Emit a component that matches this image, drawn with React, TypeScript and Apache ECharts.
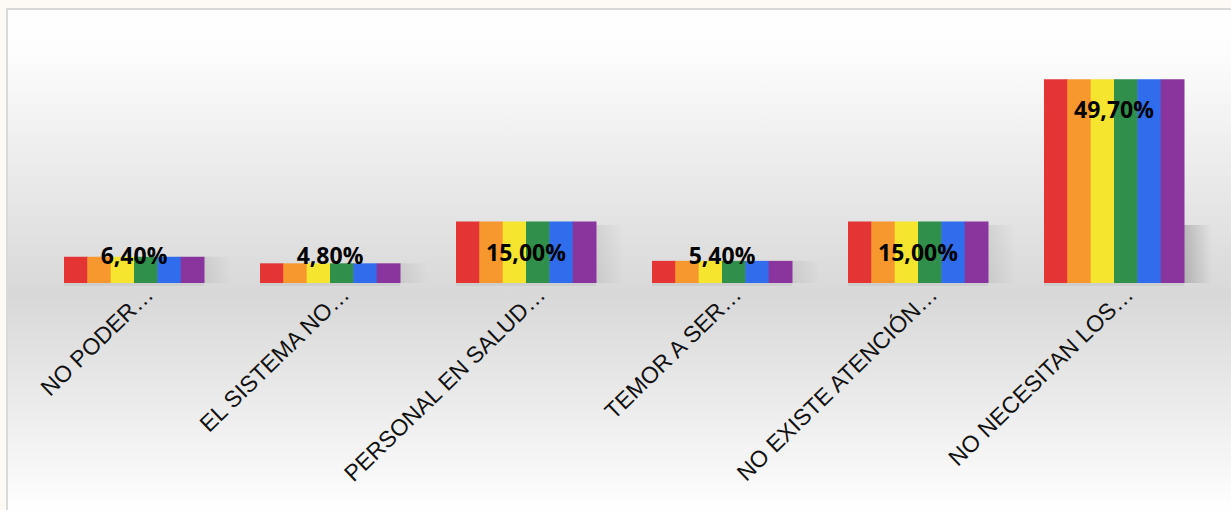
import React, { useEffect, useRef } from "react";
import * as echarts from "echarts";

const categories = [
  "NO PODER…",
  "EL SISTEMA NO…",
  "PERSONAL EN SALUD…",
  "TEMOR A SER…",
  "NO EXISTE ATENCIÓN…",
  "NO NECESITAN LOS…",
];
const values = [6.4, 4.8, 15.0, 5.4, 15.0, 49.7];
const stripeColors = ["#e43434", "#f7982f", "#f5e52e", "#2f8f4b", "#2f6ded", "#8a359d"];

function fmt(v: number) {
  return v.toFixed(2).replace(".", ",") + "%";
}

export default function App() {
  const ref = useRef<HTMLDivElement>(null);
  useEffect(() => {
    if (!ref.current) return;
    const chart = echarts.init(ref.current, null, { renderer: "svg" });
    const option: any = {
      animation: false,
      backgroundColor: "#fdf9f5",
      graphic: [
        {
          type: "rect",
          z: -10,
          silent: true,
          shape: { x: 7, y: 9, width: 1240, height: 520 },
          style: {
            fill: new echarts.graphic.LinearGradient(0, 0, 0, 1, [
              { offset: 0, color: "#ffffff" },
              { offset: 0.08, color: "#fdfdfd" },
              { offset: 0.55, color: "#d8d8d8" },
              { offset: 0.97, color: "#ffffff" },
              { offset: 1, color: "#ffffff" },
            ]),
            stroke: "#d9d9d9",
            lineWidth: 2,
          },
        },
      ],
      grid: { left: 36, right: 19, top: 37, bottom: 227 },
      xAxis: {
        type: "category",
        data: categories,
        axisLine: { show: false },
        axisTick: { show: false },
        axisLabel: {
          interval: 0,
          rotate: 44,
          margin: 22,
          padding: [0, -21, 0, 0],
          color: "#111",
          fontSize: 23,
          fontFamily: "'Liberation Sans', Arial, sans-serif",
        },
      },
      yAxis: { type: "value", min: 0, max: 60, show: false, splitLine: { show: false } },
      series: [
        {
          type: "custom",
          data: values.map((v, i) => [i, v]),
          encode: { x: 0, y: 1 },
          renderItem: (params: any, api: any) => {
            const idx = api.value(0);
            const v = api.value(1);
            const top = api.coord([idx, v]);
            const base = api.coord([idx, 0]);
            const catW = api.size([1, 0])[0];
            const barW = (catW * 140) / 196;
            const left = top[0] - barW / 2;
            const h = base[1] - top[1];
            const sw = barW / stripeColors.length;
            const children: any[] = [];
            const shH = Math.min(h, 58);
            children.push({
              type: "rect",
              shape: { x: left + barW - 2, y: base[1] - shH, width: 30, height: shH },
              style: {
                fill: new echarts.graphic.LinearGradient(0, 0, 1, 0, [
                  { offset: 0, color: h > 100 ? "rgba(0,0,0,0.2)" : "rgba(0,0,0,0.08)" },
                  { offset: 1, color: "rgba(0,0,0,0)" },
                ]),
              },
            });
            children.push({
              type: "rect",
              shape: { x: left, y: base[1], width: barW, height: 3 },
              style: { fill: "rgba(0,0,0,0.05)" },
            });
            stripeColors.forEach((c, k) => {
              children.push({
                type: "rect",
                shape: { x: left + k * sw, y: top[1], width: sw + 0.5, height: h },
                style: { fill: c },
              });
            });
            const ly = Math.min(top[1] + 30, base[1] - 28);
            children.push({
              type: "text",
              style: {
                text: fmt(v),
                x: top[0],
                y: ly,
                align: "center",
                verticalAlign: "middle",
                fill: "#000",
                fontSize: 23,
                fontWeight: "bold",
                fontFamily: "'Open Sans', sans-serif",
              },
            });
            return { type: "group", children };
          },
        },
      ],
    };
    chart.setOption(option);
    return () => chart.dispose();
  }, []);
  return (
    <div
      ref={ref}
      style={{ position: "fixed", left: 0, top: 0, width: 1231, height: 510 }}
    />
  );
}
